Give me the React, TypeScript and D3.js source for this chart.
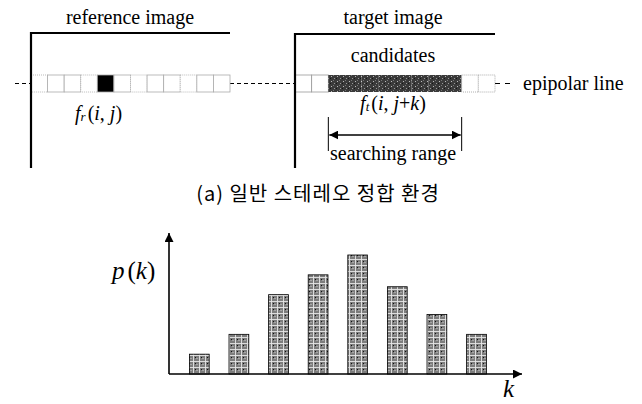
import React from "react";
import * as d3 from "d3";

// bottom histogram p(k)
const kLabels = ["1", "2", "3", "4", "5", "6", "7", "8"];
const pValues = [1, 2, 4, 5, 6, 4.4, 3, 2];

// top diagram: cells along the epipolar line
const cellCount = 12;
const refMatchCell = 4;
const candidateStart = 2;
const candidateCount = 8;

const serif = "Liberation Serif";
const W = 642;
const H = 404;

const App = () => {
  // histogram scales
  const x = d3
    .scaleBand<string>()
    .domain(kLabels)
    .range([179.5, 496.3])
    .paddingInner(0.5)
    .paddingOuter(0.25);
  const y = d3.scaleLinear().domain([0, 6]).range([374, 255]);

  // cell scales for the two image strips
  const refX = d3.scaleLinear().domain([0, cellCount]).range([31, 230]);
  const tgtX = d3.scaleLinear().domain([0, cellCount]).range([295, 495]);
  const stripTop = 75;
  const stripH = 17;
  const lineY = stripTop + stripH / 2;

  const cells = d3.range(cellCount);
  const rangeL = tgtX(candidateStart);
  const rangeR = tgtX(candidateStart + candidateCount);

  return (
    <svg
      width={W}
      height={H}
      style={{ position: "absolute", left: 0, top: 0, background: "#fff" }}
    >
      <defs>
        <pattern id="barTex" width="6" height="6" patternUnits="userSpaceOnUse">
          <rect width="6" height="6" fill="#7d7d7d" />
          <path d="M0 1.5H6M1.5 0V6" stroke="#e6e6e6" strokeWidth="0.9" />
          <rect x="3" y="3" width="1" height="1" fill="#111" />
          <rect x="4.5" y="4" width="1" height="1" fill="#cfcfcf" />
        </pattern>
        <pattern id="candTex" width="6" height="5" patternUnits="userSpaceOnUse">
          <rect width="6" height="5" fill="#3a3a3a" />
          <rect x="1" y="1" width="1" height="1" fill="#bbb" />
          <rect x="4" y="3" width="1" height="1" fill="#999" />
          <rect x="3" y="0" width="1" height="1" fill="#777" />
          <rect x="0" y="3" width="1" height="1" fill="#151515" />
        </pattern>
        <marker id="arrowHead" viewBox="0 0 10 10" refX="10" refY="5"
          markerWidth="9" markerHeight="9" markerUnits="userSpaceOnUse" orient="auto-start-reverse">
          <path d="M0,0L10,5L0,10Z" fill="#000" />
        </marker>
      </defs>

      {/* epipolar dashed line */}
      <line x1={15} x2={refX(0)} y1={lineY} y2={lineY} stroke="#000" strokeDasharray="4 3" />
      <line x1={refX(cellCount)} x2={tgtX(0)} y1={lineY} y2={lineY} stroke="#000" strokeDasharray="4 3" />
      <line x1={tgtX(cellCount)} x2={514} y1={lineY} y2={lineY} stroke="#000" strokeDasharray="5 5" />

      {/* reference strip */}
      {cells.map((c) => (
        <rect
          key={"r" + c}
          x={refX(c)}
          y={stripTop}
          width={refX(1) - refX(0)}
          height={stripH}
          fill={c === refMatchCell ? "#000" : "#fff"}
          stroke="#aaa"
          strokeWidth={0.8}
          strokeDasharray={c === refMatchCell ? undefined : c % 3 === 0 ? "1 1" : undefined}
        />
      ))}
      {/* target strip */}
      {cells.map((c) => {
        const cand = c >= candidateStart && c < candidateStart + candidateCount;
        return (
          <rect
            key={"t" + c}
            x={tgtX(c)}
            y={stripTop}
            width={tgtX(1) - tgtX(0)}
            height={stripH}
            fill={cand ? "url(#candTex)" : "#fff"}
            stroke={cand ? "none" : "#999"}
            strokeWidth={0.8}
            strokeDasharray={c >= candidateStart + candidateCount ? "1 1" : undefined}
          />
        );
      })}

      {/* image frames */}
      <path d={`M${refX(0)},168V33H${refX(cellCount)}`} fill="none" stroke="#000" strokeWidth={2.2} />
      <path d={`M${tgtX(0)},168V34H${tgtX(cellCount)}`} fill="none" stroke="#000" strokeWidth={2.2} />

      <g fontFamily={serif} fontSize={20} fill="#000">
        <text x={130} y={24} textAnchor="middle">reference image</text>
        <text x={393} y={24} textAnchor="middle">target image</text>
        <text x={393} y={62} textAnchor="middle">candidates</text>
        <text x={523} y={90}>epipolar line</text>
        <text x={75} y={120}>
          <tspan fontStyle="italic">f</tspan>
          <tspan fontStyle="italic" fontSize={13} dy={1}>r</tspan>
          <tspan dy={-1} dx={2}>(</tspan>
          <tspan fontStyle="italic">i</tspan>
          <tspan>, </tspan>
          <tspan fontStyle="italic">j</tspan>
          <tspan>)</tspan>
        </text>
        <text x={393} y={110} textAnchor="middle">
          <tspan fontStyle="italic">f</tspan>
          <tspan fontStyle="italic" fontSize={13} dy={1}>t</tspan>
          <tspan dy={-1} dx={2}>(</tspan>
          <tspan fontStyle="italic">i</tspan>
          <tspan>, </tspan>
          <tspan fontStyle="italic">j</tspan>
          <tspan>+</tspan>
          <tspan fontStyle="italic">k</tspan>
          <tspan>)</tspan>
        </text>
        <text x={393} y={160} textAnchor="middle">searching range</text>
      </g>

      {/* searching range bracket */}
      <line x1={rangeL} x2={rangeL} y1={117} y2={151} stroke="#000" />
      <line x1={rangeR} x2={rangeR} y1={117} y2={151} stroke="#000" />
      <line x1={rangeL + 1} x2={rangeR - 1} y1={135} y2={135} stroke="#000" strokeWidth={1.6}
        markerStart="url(#arrowHead)" markerEnd="url(#arrowHead)" />

      {/* caption */}
      <text x={318} y={201} textAnchor="middle" fontFamily="Noto Sans CJK KR"
        fontSize={20} letterSpacing={1}>
        (a) 일반 스테레오 정합 환경
      </text>

      {/* histogram bars */}
      {kLabels.map((k, i) => (
        <rect
          key={k}
          x={x(k)}
          y={y(pValues[i])}
          width={x.bandwidth()}
          height={y(0) - y(pValues[i])}
          fill="url(#barTex)"
          stroke="#000"
          strokeWidth={0.8}
        />
      ))}

      {/* axes */}
      <line x1={169} x2={169} y1={y(0)} y2={233} stroke="#000" strokeWidth={1.6} markerEnd="url(#arrowHead)" />
      <line x1={169} x2={522} y1={y(0)} y2={y(0)} stroke="#000" strokeWidth={1.6} markerEnd="url(#arrowHead)" />

      <g fontFamily={serif} fontSize={25} fill="#000" fontStyle="italic">
        <text x={112} y={279}>
          <tspan>p</tspan>
          <tspan fontStyle="normal" dx={3}>(</tspan>
          <tspan>k</tspan>
          <tspan fontStyle="normal">)</tspan>
        </text>
        <text x={503} y={397}>k</text>
      </g>
    </svg>
  );
};

export default App;
